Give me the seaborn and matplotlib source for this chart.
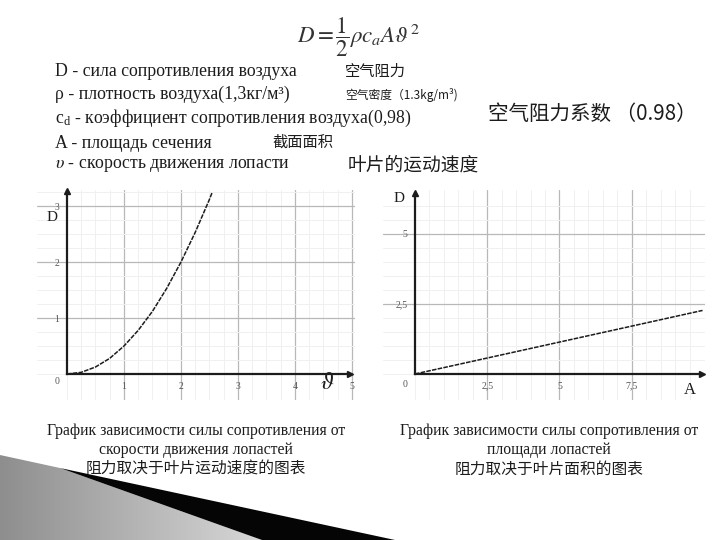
import numpy as np
import seaborn as sns
import matplotlib.pyplot as plt
from matplotlib.patches import Polygon
from matplotlib.colors import LinearSegmentedColormap

# values
speed = [0, 0.25, 0.5, 0.75, 1.0, 1.25, 1.5, 1.75, 2.0, 2.25, 2.5, 2.55]
drag_by_speed = [0, 0.03, 0.125, 0.28, 0.5, 0.78, 1.12, 1.53, 2.0, 2.53, 3.12, 3.25]
area = [0, 2.5, 5, 7.5, 9.95]
drag_by_area = [0, 0.57, 1.14, 1.71, 2.27]

speed_ticks = [1, 2, 3, 4, 5]
speed_labels = ["1", "2", "3", "4", "5"]
drag_speed_ticks = [1, 2, 3]
drag_speed_labels = ["1", "2", "3"]
area_ticks = [2.5, 5, 7.5]
area_labels = ["2,5", "5", "7,5"]
drag_area_ticks = [2.5, 5]
drag_area_labels = ["2,5", "5"]

ink = "#1c1c1c"
cjk = ["Noto Sans CJK SC", "DejaVu Sans"]

sns.set_style("white")
plt.rcParams["font.family"] = ["Liberation Serif", "DejaVu Serif", "Noto Sans CJK SC"]
plt.rcParams["mathtext.fontset"] = "stix"

fig = plt.figure(figsize=(7.2, 5.4), dpi=100)


def px(x, y):
    return x / 720, 1 - y / 540


# slide decoration, bottom left corner
bg = fig.add_axes([0, 0, 1, 1], zorder=-5)
grad = np.linspace(0, 1, 256).reshape(1, -1)
cmap = LinearSegmentedColormap.from_list("g", ["#8e8e8e", "#dadada"])
im = bg.imshow(grad, cmap=cmap, extent=[0, 270, 540, 455], aspect="auto")
gray = Polygon([(0, 455), (60, 468), (262, 540), (0, 540)], facecolor="none", edgecolor="none")
bg.add_patch(gray)
im.set_clip_path(gray)
bg.add_patch(Polygon([(60, 468), (395, 540), (262, 540)], facecolor="#050505", edgecolor="none"))
bg.set_xlim(0, 720)
bg.set_ylim(540, 0)
bg.axis("off")

# formula and legend of symbols
fig.text(*px(358, 37), r"$D=\dfrac{1}{2}\rho c_a A\vartheta^2$", ha="center", va="center",
         fontsize=16.5, color="#333333")

rows = [
    (71, "D - сила сопротивления воздуха"),
    (94, "ρ - плотность воздуха(1,3кг/м³)"),
    (118, r"$\mathregular{c_d}$ - коэффициент сопротивления воздуха(0,98)"),
    (143, "A - площадь сечения"),
    (166, r"$\upsilon$ - скорость движения лопасти"),
]
for y, s in rows:
    fig.text(*px(55, y), s, ha="left", va="center", fontsize=12.8, color=ink)

notes = [
    (345, 71, "空气阻力", 11),
    (345, 95, "空气密度（1.3kg/m³)", 8.5),
    (488, 114, "空气阻力系数 （0.98）", 14.8),
    (272, 142, "截面面积", 11),
    (348, 165, "叶片的运动速度", 13.5),
]
for x, y, s, size in notes:
    fig.text(*px(x, y), s, ha="left", va="center", fontsize=size, color=ink, family=cjk)

# captions under the graphs
caps = [
    (196, ["График зависимости силы сопротивления от", "скорости движения лопастей"],
     "阻力取决于叶片运动速度的图表"),
    (549, ["График зависимости силы сопротивления от", "площади лопастей"],
     "阻力取决于叶片面积的图表"),
]
for x, ru, zh in caps:
    fig.text(*px(x, 431), ru[0], ha="center", va="center", fontsize=11.3, color=ink)
    fig.text(*px(x, 450), ru[1], ha="center", va="center", fontsize=11.3, color=ink)
    fig.text(*px(x, 469), zh, ha="center", va="center", fontsize=11.3, color=ink, family=cjk)


def panel(rect, xlim, ylim, xend, yend, xmaj, xlab, xmin, ymaj, ylab, ymin):
    ax = fig.add_axes(rect)
    ax.set_xlim(*xlim)
    ax.set_ylim(*ylim)
    ax.set_axisbelow(True)
    for side in ["top", "right"]:
        ax.spines[side].set_visible(False)
    for side in ["left", "bottom"]:
        ax.spines[side].set_position(("data", 0))
        ax.spines[side].set_linewidth(1.6)
        ax.spines[side].set_color(ink)
    ax.spines["bottom"].set_bounds(0, xend)
    ax.spines["left"].set_bounds(0, yend)
    ax.plot([xend], [0], marker=">", ms=5, color=ink, clip_on=False)
    ax.plot([0], [yend], marker="^", ms=5, color=ink, clip_on=False)
    ax.set_xticks(xmaj, xlab)
    ax.set_xticks(xmin, minor=True)
    ax.set_yticks(ymaj, ylab)
    ax.set_yticks(ymin, minor=True)
    ax.grid(which="major", color="#b8b8b8", lw=0.9)
    ax.grid(which="minor", color="#f0f0f0", lw=0.7)
    ax.tick_params(which="both", direction="inout", color=ink, width=0.8,
                   labelsize=7, labelcolor="#555555", pad=3)
    ax.tick_params(which="major", length=5)
    ax.tick_params(which="minor", length=3)
    ax.set_xlabel("")
    ax.set_ylabel("")
    return ax


# drag against blade speed
ax1 = panel([37 / 720, 140 / 540, 318 / 720, 210 / 540], (-0.526, 5.053), (-0.464, 3.286),
            4.96, 3.27, speed_ticks, speed_labels, np.arange(0, 5.01, 0.25),
            drag_speed_ticks, drag_speed_labels, np.arange(0, 3.26, 0.25))
sns.lineplot(x=speed, y=drag_by_speed, ax=ax1, color=ink, lw=1.1, linestyle=(0, (3, 0.8)),
             sort=False)
ax1.text(-0.18, -0.14, "0", fontsize=7, color="#555555", ha="center", va="center")
ax1.text(-0.26, 2.79, "D", fontsize=11, color=ink, ha="center", va="center")
ax1.text(4.56, -0.17, r"$\vartheta$", fontsize=17, color=ink, ha="center", va="center")

# drag against blade area
ax2 = panel([383 / 720, 140 / 540, 322 / 720, 210 / 540], (-1.107, 10.035), (-0.929, 6.571),
            9.93, 6.46, area_ticks, area_labels, np.arange(0, 9.9, 0.5),
            drag_area_ticks, drag_area_labels, np.arange(0, 6.3, 0.5))
sns.lineplot(x=area, y=drag_by_area, ax=ax2, color=ink, lw=1.1, linestyle=(0, (3, 0.8)),
             sort=False)
ax2.text(-0.35, -0.36, "0", fontsize=7, color="#555555", ha="center", va="center")
ax2.text(-0.55, 6.25, "D", fontsize=11, color=ink, ha="center", va="center")
ax2.text(9.5, -0.57, "A", fontsize=12, color=ink, ha="center", va="center")

fig.savefig("out.png", dpi=100)
